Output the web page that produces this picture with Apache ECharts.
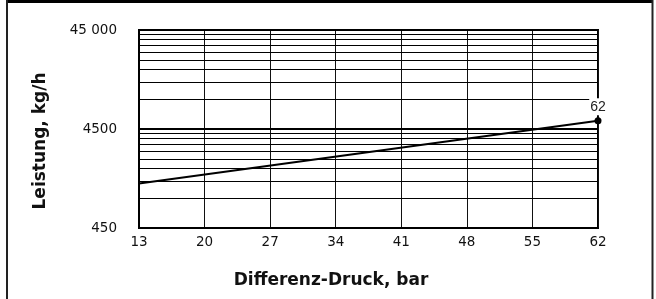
<!DOCTYPE html>
<html>
<head>
<meta charset="utf-8">
<script src="https://cdn.jsdelivr.net/npm/echarts@6/dist/echarts.min.js"></script>
<style>
html, body { margin: 0; padding: 0; background: #fff; }
#chart { width: 656px; height: 299px; }
</style>
</head>
<body>
<div id="chart"></div>
<script>
// x-Achse: Differenz-Druck, bar
const pressureTicks = ['13', '20', '27', '34', '41', '48', '55', '62'];
const flowLine = [['13', 1270], ['62', 5450]];
// beschriftete Linien der log-Achse
const majorValues = [450, 4500, 45000];
// Zwischenlinien je Dekade
const minorValues = [900, 1350, 1800, 2250, 2700, 3150, 3600, 4050,
  9000, 13500, 18000, 22500, 27000, 31500, 36000, 40500];

const labelFont = '"DejaVu Sans"';

function fmt(v) {
  // 45000 -> "45 000", kleinere Werte ohne Trenner
  return v >= 10000 ? String(v).replace(/\B(?=(\d{3})+(?!\d))/g, ' ') : String(v);
}

const chart = echarts.init(document.getElementById('chart'));

const gridLines = minorValues.map(v => ({
  yAxis: v,
  lineStyle: { color: '#000', width: 1, type: 'solid' },
  label: { show: false }
})).concat(majorValues.map(v => ({
  yAxis: v,
  lineStyle: { color: '#000', width: 2, type: 'solid' },
  label: {
    show: true,
    position: 'start',
    distance: 22,
    formatter: fmt(v),
    color: '#111',
    fontFamily: labelFont,
    fontSize: 13.5
  }
})));

chart.setOption({
  animation: false,
  backgroundColor: '#fff',
  grid: {
    left: 139, right: 58, top: 30, bottom: 71,
    show: true, borderColor: '#000', borderWidth: 2
  },
  xAxis: {
    type: 'category',
    data: pressureTicks,
    boundaryGap: false,
    axisLine: { lineStyle: { color: '#000', width: 2 } },
    axisTick: { show: false },
    axisLabel: { color: '#111', fontFamily: labelFont, fontSize: 13.5, margin: 7 },
    splitLine: { show: true, lineStyle: { color: '#111', width: 1 } }
  },
  yAxis: {
    type: 'log',
    logBase: 10,
    min: 450,
    max: 45000,
    axisLine: { show: true, lineStyle: { color: '#000', width: 2 } },
    axisTick: { show: false },
    axisLabel: { show: false },
    splitLine: { show: false }
  },
  series: [{
    type: 'line',
    data: flowLine.map((p, i) => {
      const last = i === flowLine.length - 1;
      return {
        value: p,
        symbol: last ? 'circle' : 'none',
        label: {
          show: last,
          position: 'top',
          distance: 2,
          formatter: p[0],
          color: '#222',
          fontFamily: 'Liberation Sans',
          fontSize: 14,
          backgroundColor: '#fff',
          padding: [2, 1, 1, 1]
        }
      };
    }),
    symbolSize: 7,
    lineStyle: { color: '#000', width: 2 },
    itemStyle: { color: '#000' },
    markLine: {
      silent: true,
      symbol: 'none',
      z: 1,
      data: gridLines
    },
    z: 3
  }],
  graphic: [
    { type: 'line', shape: { x1: 6, y1: 1.5, x2: 653, y2: 1.5 }, style: { stroke: '#000', lineWidth: 3 } },
    { type: 'line', shape: { x1: 7, y1: 0, x2: 7, y2: 299 }, style: { stroke: '#222', lineWidth: 2 } },
    { type: 'line', shape: { x1: 652.5, y1: 0, x2: 652.5, y2: 299 }, style: { stroke: '#222', lineWidth: 2 } },
    {
      type: 'text', x: 41, y: 141, rotation: Math.PI / 2,
      style: {
        text: 'Leistung, kg/h', fill: '#111', align: 'center', verticalAlign: 'middle',
        font: 'bold 17px ' + labelFont
      }
    },
    {
      type: 'text', x: 331, y: 281,
      style: {
        text: 'Differenz-Druck, bar', fill: '#111', align: 'center', verticalAlign: 'middle',
        font: 'bold 17px ' + labelFont
      }
    }
  ]
});
</script>
</body>
</html>
